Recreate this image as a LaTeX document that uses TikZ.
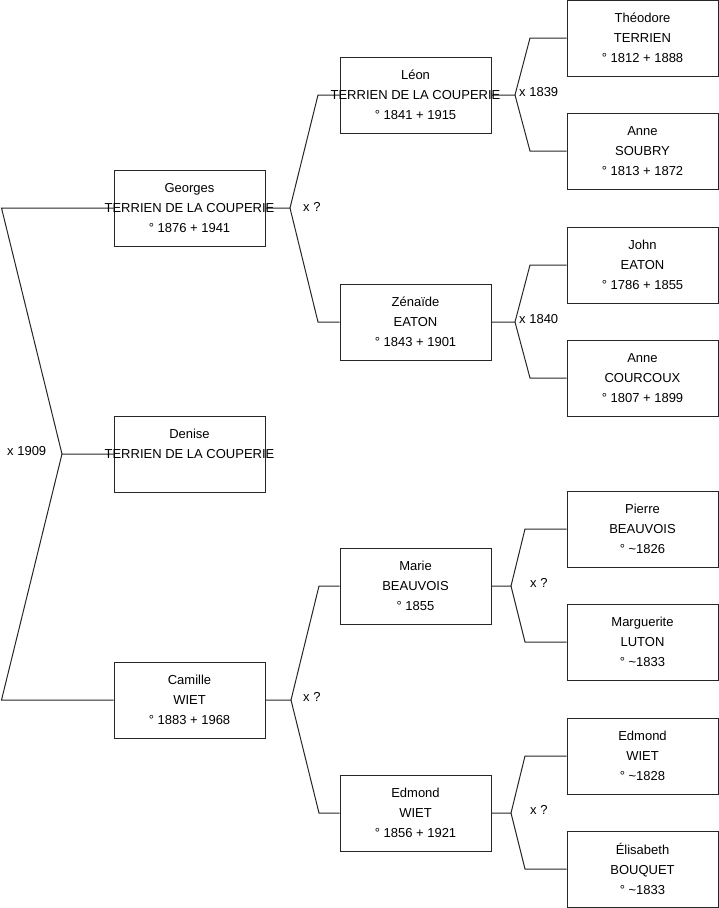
\documentclass[tikz,border=0pt]{standalone}
\usepackage{fontspec}
\setmainfont{Liberation Sans}
\usepackage{tikz}
\usetikzlibrary{positioning, backgrounds}

\newcommand{\widename}[1]{\makebox[0pt]{#1}}

\begin{document}
\begin{tikzpicture}[
        x=1pt, y=-1pt,
        person/.style={rectangle, draw=black!85, line width=1pt, minimum width=151pt, minimum height=76pt,
            inner sep=0pt, align=center, text=black, font=\fontsize{13}{20}\selectfont},
        link/.style={draw=black!85, line width=1pt},
        wed/.style={anchor=west, inner sep=0pt, text=black, font=\fontsize{13}{16}\selectfont}
    ]
        \useasboundingbox (0,0) rectangle (719,908);

        \node[person] (georges) at (189.5,208) {Georges\\ \widename{TERRIEN DE LA COUPERIE}\\ ° 1876 + 1941};
        \node[person] (denise) at (189.5,454) {Denise\\ \widename{TERRIEN DE LA COUPERIE}\\ \phantom{° 1876}};
        \node[person] (camille) at (189.5,700) {Camille\\ WIET\\ ° 1883 + 1968};

        \node[person] (leon) at (415.5,95) {Léon\\ \widename{TERRIEN DE LA COUPERIE}\\ ° 1841 + 1915};
        \node[person] (zenaide) at (415.5,322) {Zénaïde\\ EATON\\ ° 1843 + 1901};
        \node[person] (marie) at (415.5,586) {Marie\\ BEAUVOIS\\ ° 1855};
        \node[person] (edmondw) at (415.5,813) {Edmond\\ WIET\\ ° 1856 + 1921};

        \node[person] (theodore) at (642.5,38) {Théodore\\ TERRIEN\\ ° 1812 + 1888};
        \node[person] (annes) at (642.5,151) {Anne\\ SOUBRY\\ ° 1813 + 1872};
        \node[person] (john) at (642.5,265) {John\\ EATON\\ ° 1786 + 1855};
        \node[person] (annec) at (642.5,378) {Anne\\ COURCOUX\\ ° 1807 + 1899};
        \node[person] (pierre) at (642.5,529) {Pierre\\ BEAUVOIS\\ ° \textasciitilde1826};
        \node[person] (marguerite) at (642.5,642) {Marguerite\\ LUTON\\ ° \textasciitilde1833};
        \node[person] (edmondp) at (642.5,756) {Edmond\\ WIET\\ ° \textasciitilde1828};
        \node[person] (elisabeth) at (642.5,869) {Élisabeth\\ BOUQUET\\ ° \textasciitilde1833};

        \coordinate (m0) at (62,454);
        \coordinate (m1) at (290,208);
        \coordinate (m2) at (515,95);
        \coordinate (m3) at (515,322);
        \coordinate (m4) at (291,700);
        \coordinate (m5) at (511,586);
        \coordinate (m6) at (511,813);

        \node[wed] (w0) at (7,451) {x 1909};
        \node[wed] (w1) at (303,206.5) {x ?};
        \node[wed] (w2) at (519,92) {x 1839};
        \node[wed] (w3) at (519,319.5) {x 1840};
        \node[wed] (w4) at (303,696.5) {x ?};
        \node[wed] (w5) at (530,582.5) {x ?};
        \node[wed] (w6) at (530,809.5) {x ?};

        \begin{scope}[on background layer]
        \draw[link] (georges.west) -- ++(-112,0) -- (m0) -- (denise.west);
        \draw[link] (camille.west) -- ++(-112,0) -- (m0);

        \draw[link] (georges.east) -- (m1) -- ++(28,-113) -- (leon.west);
        \draw[link] (m1) -- ++(28,114) -- (zenaide.west);
        \draw[link] (camille.east) -- (m4) -- ++(28,-114) -- (marie.west);
        \draw[link] (m4) -- ++(28,113) -- (edmondw.west);

        \draw[link] (leon.east) -- (m2) -- ++(15,-57) -- (theodore.west);
        \draw[link] (m2) -- ++(15,56) -- (annes.west);
        \draw[link] (zenaide.east) -- (m3) -- ++(15,-57) -- (john.west);
        \draw[link] (m3) -- ++(15,56) -- (annec.west);
        \draw[link] (marie.east) -- (m5) -- ++(14,-57) -- (pierre.west);
        \draw[link] (m5) -- ++(14,56) -- (marguerite.west);
        \draw[link] (edmondw.east) -- (m6) -- ++(14,-57) -- (edmondp.west);
        \draw[link] (m6) -- ++(14,56) -- (elisabeth.west);
        \end{scope}
    \end{tikzpicture}
\end{document}
